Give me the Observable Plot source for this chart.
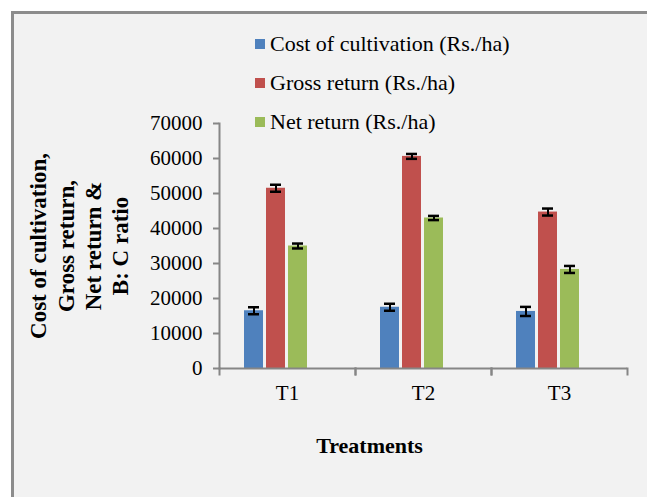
<!DOCTYPE html>
<html>
<head>
<meta charset="utf-8">
<script src="https://cdn.jsdelivr.net/npm/d3@7"></script>
<script src="https://cdn.jsdelivr.net/npm/@observablehq/plot@0.6"></script>
<style>
html, body { margin: 0; padding: 0; background: #ffffff; }
#wrap { position: relative; width: 647px; height: 497px; overflow: hidden; }
#panel { position: absolute; left: 11px; top: 11px; right: 0; bottom: 0; background: #f2f2f2;
  border-left: 3px solid #8c8c8c; border-top: 3px solid #8c8c8c; }
#chart { position: absolute; left: 0; top: 0; }
#legend { position: absolute; left: 255px; top: 24px; font-family: "Times New Roman", "Liberation Serif", "DejaVu Serif", serif; font-size: 22px; color: #000; }
.item { display: flex; align-items: center; height: 39px; white-space: nowrap; }
.sw { width: 10px; height: 10px; margin-right: 5px; }
</style>
</head>
<body>
<div id="wrap">
  <div id="panel"></div>
  <div id="chart"></div>
  <div id="legend"></div>
</div>
<script>
// ---- data ----
const treatments = ["T1", "T2", "T3"];
const seriesNames = ["Cost of cultivation (Rs./ha)", "Gross return (Rs./ha)", "Net return (Rs./ha)"];
const hiddenSeries = "B: C ratio";
const costValues = [16500, 17500, 16300];
const costErrors = [1000, 1000, 1300];
const grossValues = [51500, 60600, 44700];
const grossErrors = [1000, 700, 1000];
const netValues = [35000, 43000, 28300];
const netErrors = [700, 600, 1000];
const yTicks = [0, 10000, 20000, 30000, 40000, 50000, 60000, 70000];
const seriesColors = ["#4f81bd", "#c0504d", "#9bbb59"];
const yTitleLines = ["Cost of cultivation,", "Gross return,", "Net return &", "B: C ratio"];
const xTitle = "Treatments";

const valueSets = [costValues, grossValues, netValues];
const errorSets = [costErrors, grossErrors, netErrors];
const rows = [];
treatments.forEach((t, i) => {
  seriesNames.forEach((s, j) => {
    rows.push({treatment: t, series: s, value: valueSets[j][i], err: errorSets[j][i]});
  });
});

const axisGray = "#868686";
const plotHeight = 497 - 123 - 129;
const serifFont = "'Times New Roman', 'Liberation Serif', 'DejaVu Serif', serif";

const chart = Plot.plot({
  width: 647,
  height: 497,
  marginLeft: 218,
  marginRight: 20,
  marginTop: 123,
  marginBottom: 129,
  style: {background: "transparent", fontFamily: serifFont, color: "#000"},
  fx: {domain: treatments, padding: 0, axis: null},
  x: {domain: [...seriesNames, hiddenSeries], paddingInner: 0.13, paddingOuter: 1.03, axis: null},
  y: {domain: [0, 70000], axis: null},
  color: {domain: seriesNames, range: seriesColors},
  marks: [
    Plot.barY(rows, {fx: "treatment", x: "series", y: "value", fill: "series"}),
    Plot.ruleX(rows, {fx: "treatment", x: "series", y1: d => d.value - d.err, y2: d => d.value + d.err, stroke: "#000", strokeWidth: 2}),
    Plot.tickY(rows, {fx: "treatment", x: "series", y: d => d.value - d.err, stroke: "#000", strokeWidth: 2.5, insetLeft: 4, insetRight: 4}),
    Plot.tickY(rows, {fx: "treatment", x: "series", y: d => d.value + d.err, stroke: "#000", strokeWidth: 2.5, insetLeft: 4, insetRight: 4}),
    Plot.ruleY([0], {stroke: axisGray, strokeWidth: 2}),
    Plot.frame({anchor: "left", stroke: axisGray, strokeWidth: 2, insetTop: plotHeight, insetBottom: -6}),
    Plot.frame({anchor: "right", stroke: axisGray, strokeWidth: 2, insetTop: plotHeight, insetBottom: -6}),
    Plot.frame({anchor: "left", stroke: axisGray, strokeWidth: 2, facetAnchor: "left"}),
    Plot.axisY(yTicks, {anchor: "left", tickSize: 6, tickPadding: 11, stroke: axisGray, strokeWidth: 2, fill: "#000", fontSize: 21, label: null, tickFormat: d => String(d)}),
    Plot.axisFx({anchor: "bottom", tickSize: 0, tickPadding: 17, fill: "#000", fontSize: 21, label: null}),
    Plot.text([{t: "T1", label: yTitleLines.join("\n")}], {fx: "t", text: "label", frameAnchor: "left", dx: -141, rotate: -90, fontWeight: "bold", fontSize: 23, lineHeight: 1.18, textAnchor: "middle", lineAnchor: "middle", fill: "#000"}),
    Plot.text([{t: "T2", label: xTitle}], {fx: "t", text: "label", frameAnchor: "bottom", dx: -54, dy: 84, fontWeight: "bold", fontSize: 22, fill: "#000"})
  ]
});
document.getElementById("chart").appendChild(chart);

// legend
const legend = document.getElementById("legend");
seriesNames.forEach((s, j) => {
  const item = document.createElement("div");
  item.className = "item";
  const sw = document.createElement("span");
  sw.className = "sw";
  sw.style.background = seriesColors[j];
  const label = document.createElement("span");
  label.textContent = s;
  item.appendChild(sw);
  item.appendChild(label);
  legend.appendChild(item);
});
</script>
</body>
</html>
